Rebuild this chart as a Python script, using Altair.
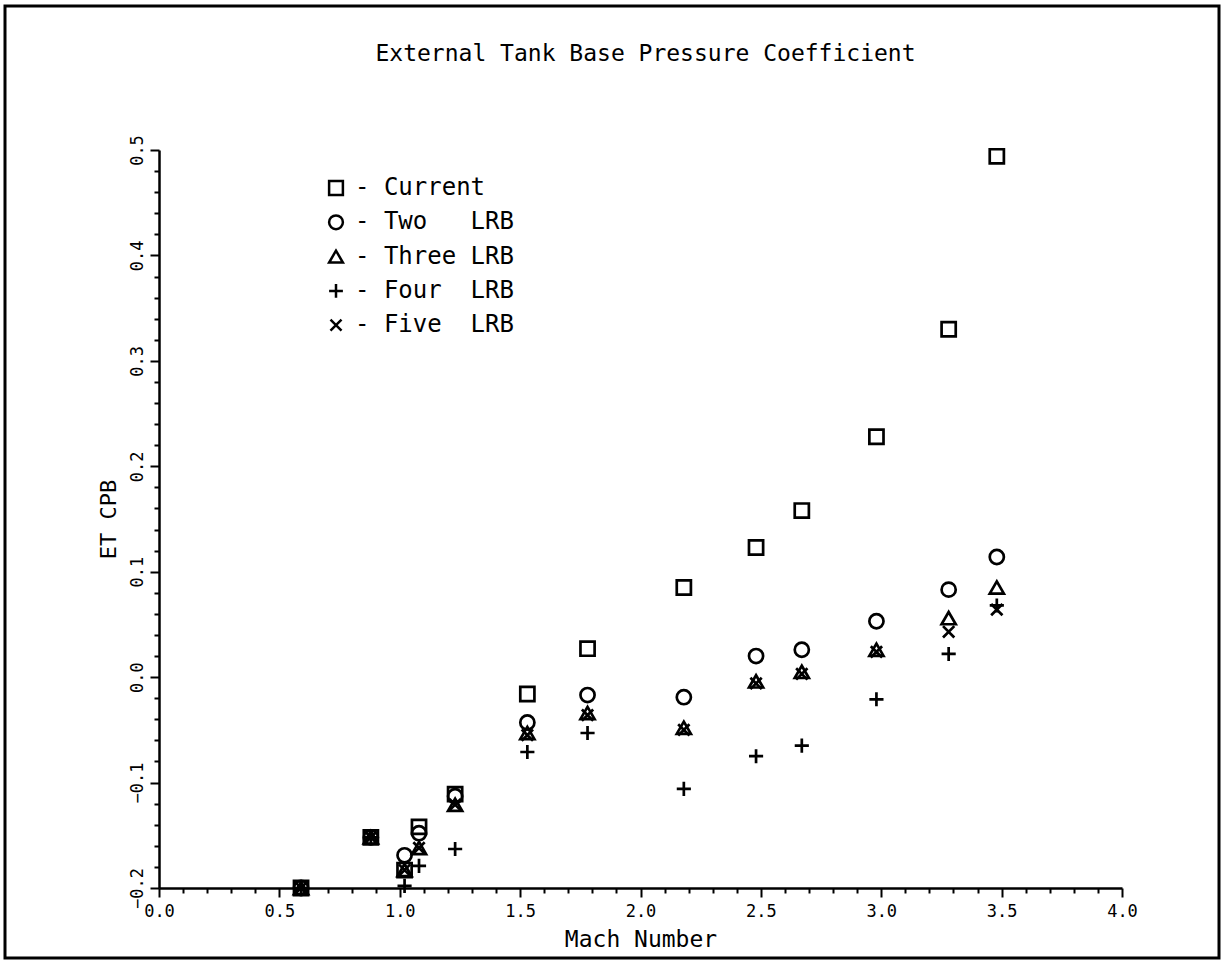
import altair as alt
import pandas as pd

# Mach numbers
mach = [0.59, 0.88, 1.02, 1.08, 1.23, 1.53, 1.78, 2.18, 2.48, 2.67, 2.98, 3.28, 3.48]

# ET base pressure coefficient for each configuration
current = [-0.200, -0.152, -0.183, -0.142, -0.111, -0.016, 0.027, 0.085, 0.123, 0.158, 0.228, 0.330, 0.494]
two_lrb = [-0.200, -0.152, -0.169, -0.148, -0.113, -0.043, -0.017, -0.019, 0.020, 0.026, 0.053, 0.083, 0.114]
three_lrb = [-0.200, -0.152, -0.183, -0.162, -0.121, -0.053, -0.034, -0.048, -0.004, 0.005, 0.026, 0.056, 0.085]
four_lrb = [-0.200, -0.152, -0.198, -0.179, -0.163, -0.071, -0.053, -0.106, -0.075, -0.065, -0.021, 0.022, 0.068]
five_lrb = [-0.200, -0.152, -0.183, -0.162, -0.121, -0.055, -0.036, -0.050, -0.006, 0.003, 0.024, 0.043, 0.064]

NB = "\u00a0"
series_names = [
    "-" + NB + "Current",
    "-" + NB + "Two" + NB * 3 + "LRB",
    "-" + NB + "Three" + NB + "LRB",
    "-" + NB + "Four" + NB * 2 + "LRB",
    "-" + NB + "Five" + NB * 2 + "LRB",
]
series_values = [current, two_lrb, three_lrb, four_lrb, five_lrb]
shapes = [
    "square",
    "circle",
    "triangle-up",
    "M-1,0L1,0M0,-1L0,1",
    "M-0.8,-0.8L0.8,0.8M-0.8,0.8L0.8,-0.8",
]

x_ticks = [round(i * 0.1, 1) for i in range(41)]
y_ticks = [round(-0.2 + i * 0.02, 2) for i in range(36)]

rows = []
for name, vals in zip(series_names, series_values):
    for m, v in zip(mach, vals):
        rows.append({"mach": m, "cpb": v, "config": name})
df = pd.DataFrame(rows)

FONT = "DejaVu Sans Mono"

x_major = "abs(datum.value*2 - round(datum.value*2)) < 0.001"
y_major = "abs(datum.value*10 - round(datum.value*10)) < 0.001"

points = alt.Chart(df).mark_point(
    filled=False, strokeWidth=2.7, opacity=1, size=200, color="black"
).encode(
    x=alt.X(
        "mach:Q",
        scale=alt.Scale(domain=[0, 4], nice=False, zero=False),
        axis=alt.Axis(
            values=x_ticks,
            labelExpr=f"{x_major} ? format(datum.value, '.1f') : ''",
            tickSize={"condition": {"test": x_major, "value": 9}, "value": 5},
            grid=False,
            domainColor="black",
            domainWidth=2.5,
            tickColor="black",
            tickWidth=2,
            labelFont=FONT,
            labelFontSize=17,
            labelColor="black",
            labelOverlap=False,
            labelFlush=False,
            labelPadding=6,
            title="Mach Number",
            titleFont=FONT,
            titleFontSize=23,
            titleFontWeight="normal",
            titleColor="black",
            titlePadding=9,
        ),
    ),
    y=alt.Y(
        "cpb:Q",
        scale=alt.Scale(domain=[-0.2, 0.5], nice=False, zero=False),
        axis=alt.Axis(
            values=y_ticks,
            labelExpr=f"{y_major} ? format(datum.value, '.1f') : ''",
            tickSize={"condition": {"test": y_major, "value": 9}, "value": 5},
            grid=False,
            domainColor="black",
            domainWidth=2.5,
            tickColor="black",
            tickWidth=2,
            labelFont=FONT,
            labelFontSize=17,
            labelColor="black",
            labelAngle=270,
            labelAlign="center",
            labelBaseline="bottom",
            labelOverlap=False,
            labelFlush=False,
            labelPadding=4,
            title="ET CPB",
            titleFont=FONT,
            titleFontSize=22,
            titleFontWeight="normal",
            titleColor="black",
            titlePadding=8,
        ),
    ),
    shape=alt.Shape(
        "config:N",
        scale=alt.Scale(domain=series_names, range=shapes),
        legend=alt.Legend(
            title=None,
            orient="none",
            legendX=165,
            legendY=26,
            labelFont=FONT,
            labelFontSize=24,
            labelColor="black",
            labelOffset=7,
            symbolSize=190,
            symbolStrokeWidth=2.5,
            symbolStrokeColor="black",
            symbolFillColor="transparent",
            symbolType="square",
            rowPadding=10.3,
            padding=0,
            labelLimit=400,
        ),
    ),
)

frame = alt.Chart(pd.DataFrame({"k": [0]})).mark_rect(
    fill=None, stroke="black", strokeWidth=3
).encode(
    x=alt.value(-154), x2=alt.value(1060), y=alt.value(-144), y2=alt.value(808)
)

chart = alt.layer(points, frame).properties(
    width=963,
    height=738,
    background="white",
    autosize=alt.AutoSizeParams(type="none"),
    padding={"left": 159, "top": 150, "right": 102, "bottom": 76},
    title=alt.TitleParams(
        "External Tank Base Pressure Coefficient",
        font=FONT,
        fontSize=23,
        fontWeight="normal",
        color="black",
        anchor="middle",
        frame="group",
        offset=-61,
        dx=5,
    ),
).configure_view(stroke=None)

chart.save("out.html", embed_options={"renderer": "svg", "actions": False})
